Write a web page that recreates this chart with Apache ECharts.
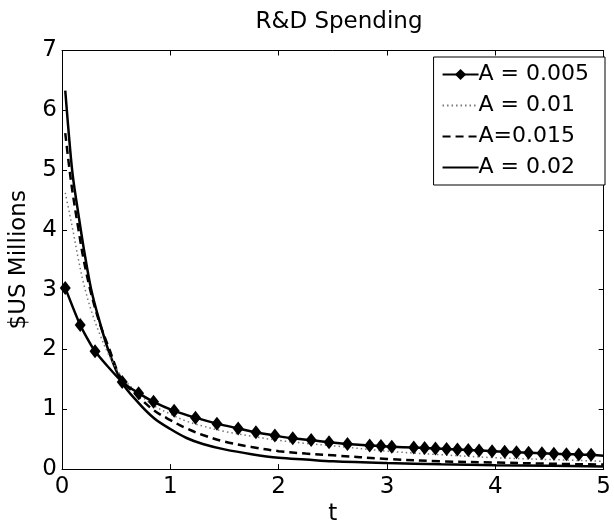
<!DOCTYPE html>
<html>
<head>
<meta charset="utf-8">
<script src="https://cdn.jsdelivr.net/npm/echarts@6/dist/echarts.min.js"></script>
<style>
html,body{margin:0;padding:0;background:#fff;}
#chart{width:614px;height:531px;}
</style>
</head>
<body>
<div id="chart"></div>
<script>
// ---- data ----
const titleText = 'R&D Spending';
const xName = 't';
const yName = '$US Millions';
const seriesNames = ['A = 0.005', 'A = 0.01', 'A=0.015', 'A = 0.02'];

// A = 0.005 (diamond markers at solver steps)
const tA005 = [0.03, 0.168, 0.305, 0.556, 0.707, 0.845, 1.035, 1.232, 1.43, 1.626, 1.79, 1.965, 2.13, 2.30, 2.465, 2.635, 2.84, 2.944, 3.044, 3.247, 3.347, 3.447, 3.55, 3.65, 3.75, 3.85, 3.97, 4.086, 4.195, 4.307, 4.43, 4.54, 4.656, 4.77, 4.884, 5.0];
const vA005 = [3.03, 2.41, 1.97, 1.455, 1.27, 1.125, 0.975, 0.86, 0.76, 0.68, 0.615, 0.56, 0.515, 0.485, 0.45, 0.42, 0.395, 0.385, 0.375, 0.36, 0.352, 0.345, 0.335, 0.327, 0.318, 0.31, 0.30, 0.29, 0.282, 0.275, 0.265, 0.258, 0.25, 0.245, 0.238, 0.225];

// shared t grid for the other three curves
const tGrid = [0.03, 0.07, 0.1, 0.15, 0.2, 0.27, 0.35, 0.43, 0.55, 0.7, 0.85, 1.0, 1.15, 1.3, 1.5, 1.75, 2.0, 2.25, 2.5, 3.0, 3.5, 4.0, 4.5, 5.0];
const vA010 = [4.62, 4.27, 4.0, 3.52, 3.1, 2.65, 2.25, 1.92, 1.55, 1.27, 1.06, 0.92, 0.80, 0.72, 0.63, 0.55, 0.48, 0.43, 0.39, 0.30, 0.24, 0.19, 0.16, 0.13];
const vA015 = [5.62, 5.0, 4.6, 4.03, 3.5, 2.93, 2.43, 2.04, 1.5, 1.22, 0.98, 0.82, 0.68, 0.57, 0.46, 0.37, 0.30, 0.26, 0.23, 0.17, 0.13, 0.11, 0.09, 0.075];
const vA020 = [6.33, 5.45, 4.9, 4.28, 3.7, 3.0, 2.45, 1.98, 1.46, 1.12, 0.85, 0.67, 0.52, 0.42, 0.33, 0.25, 0.19, 0.16, 0.13, 0.10, 0.08, 0.065, 0.055, 0.045];

const xTicks = [0, 1, 2, 3, 4, 5];
const yTicks = [0, 1, 2, 3, 4, 5, 6, 7];

// ---- chart ----
const FONT = 'DejaVu Sans';
const pairs = (ts, vs) => ts.map((t, i) => [t, vs[i]]);

const diamondData = pairs(tA005, vA005).map((p, i, arr) =>
  i === arr.length - 1 ? { value: p, symbol: 'none' } : p);

const axisCommon = {
  type: 'value',
  axisLine: { show: true, onZero: false, lineStyle: { color: '#000', width: 1 } },
  axisTick: { show: true, inside: true, length: 5, lineStyle: { color: '#000', width: 1 } },
  splitLine: { show: false }
};

const chart = echarts.init(document.getElementById('chart'), null, { renderer: 'canvas' });
chart.setOption({
  backgroundColor: '#fff',
  animation: false,
  title: {
    text: titleText,
    left: 334,
    top: 6,
    textAlign: 'center',
    textStyle: { fontFamily: FONT, fontSize: 23, fontWeight: 'normal', color: '#000' }
  },
  grid: { left: 59.5, right: 5, top: 50.5, bottom: 55.5 },
  legend: {
    data: [
      { name: seriesNames[0] },
      { name: seriesNames[1], itemStyle: { opacity: 0 } },
      { name: seriesNames[2], itemStyle: { opacity: 0 } },
      { name: seriesNames[3], itemStyle: { opacity: 0 } }
    ],
    orient: 'vertical',
    right: 9,
    top: 57,
    backgroundColor: '#fff',
    borderColor: '#000',
    borderWidth: 1,
    borderRadius: 0,
    padding: [6, 16, 6, 8],
    itemGap: 8,
    itemWidth: 36,
    itemHeight: 14,
    textStyle: { fontFamily: FONT, fontSize: 22, lineHeight: 23, color: '#000', padding: [0, 0, 0, -5] }
  },
  xAxis: [
    Object.assign({}, axisCommon, {
      min: xTicks[0], max: xTicks[xTicks.length - 1], interval: 1, position: 'bottom',
      name: xName, nameLocation: 'middle', nameGap: 32,
      nameTextStyle: { fontFamily: FONT, fontSize: 23, color: '#000' },
      axisLabel: { show: true, color: '#000', fontFamily: FONT, fontSize: 23, margin: 6,
        showMinLabel: true, showMaxLabel: true, hideOverlap: false }
    }),
    Object.assign({}, axisCommon, {
      min: xTicks[0], max: xTicks[xTicks.length - 1], interval: 1, position: 'top',
      axisLabel: { show: false }
    })
  ],
  yAxis: [
    Object.assign({}, axisCommon, {
      min: yTicks[0], max: yTicks[yTicks.length - 1], interval: 1, position: 'left',
      name: yName, nameLocation: 'middle', nameGap: 31,
      nameTextStyle: { fontFamily: FONT, fontSize: 23, color: '#000' },
      axisLabel: { show: true, color: '#000', fontFamily: FONT, fontSize: 23, margin: 5,
        showMinLabel: true, showMaxLabel: true }
    }),
    Object.assign({}, axisCommon, {
      min: yTicks[0], max: yTicks[yTicks.length - 1], interval: 1, position: 'right',
      axisLabel: { show: false }
    })
  ],
  series: [
    {
      name: seriesNames[3], type: 'line', data: pairs(tGrid, vA020),
      smooth: 0.35, symbol: 'none', z: 2,
      lineStyle: { color: '#000', width: 2.5, type: 'solid' },
      itemStyle: { color: '#000' }
    },
    {
      name: seriesNames[2], type: 'line', data: pairs(tGrid, vA015),
      smooth: 0.35, symbol: 'none', z: 3,
      lineStyle: { color: '#000', width: 2.5, type: [8, 5] },
      itemStyle: { color: '#000' }
    },
    {
      name: seriesNames[1], type: 'line', data: pairs(tGrid, vA010),
      smooth: 0.35, symbol: 'none', z: 4,
      lineStyle: { color: '#777', width: 1.5, type: [1.5, 3] },
      itemStyle: { color: '#777' }
    },
    {
      name: seriesNames[0], type: 'line', data: diamondData,
      smooth: 0.2, symbol: 'diamond', symbolSize: [11, 14], showSymbol: true, z: 5,
      lineStyle: { color: '#000', width: 2.5 },
      itemStyle: { color: '#000' }
    }
  ]
});
</script>
</body>
</html>
